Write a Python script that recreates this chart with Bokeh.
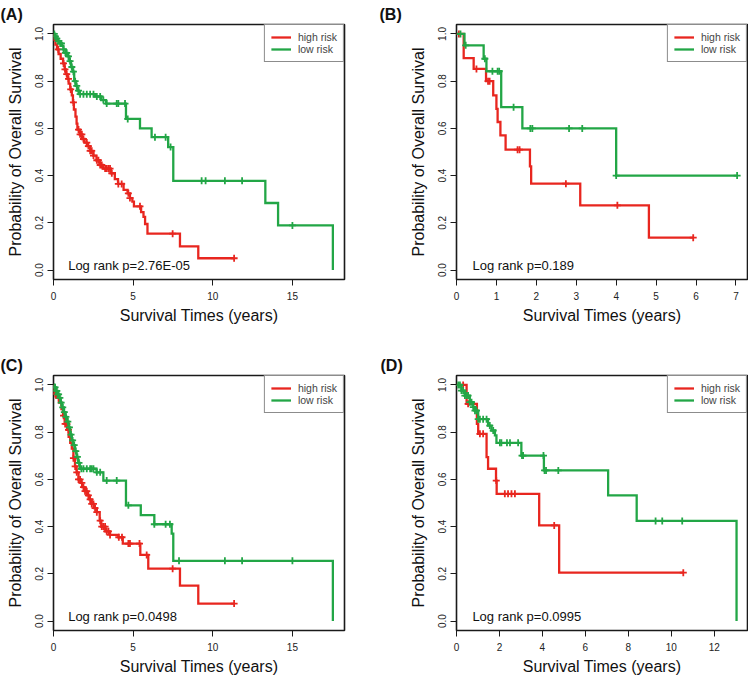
import numpy as np
from bokeh.plotting import figure
from bokeh.layouts import row, column
from bokeh.models import (Range1d, FixedTicker, Legend, LegendItem, Label,
                          PrintfTickFormatter)
from bokeh.embed import file_html
from bokeh.resources import INLINE

# ---------------- data ----------------
series_labels = ["high risk", "low risk"]
x_title = "Survival Times (years)"
y_title = "Probability of Overall Survival"
y_ticks = [0.0, 0.2, 0.4, 0.6, 0.8, 1.0]

# Panel A
a_high_t = [0.02, 0.12, 0.22, 0.32, 0.45, 0.6, 0.7, 0.78, 0.88, 0.95, 1.05, 1.15, 1.22, 1.28, 1.38,
            1.45, 1.5, 1.65, 1.8, 1.95, 2.1, 2.3, 2.5, 2.7, 2.9, 3.1, 3.6, 3.85, 4.05, 4.4, 4.65,
            4.8, 4.95, 5.05, 5.5, 5.65, 5.75, 5.9, 7.94, 9.09]
a_high_s = [0.975, 0.955, 0.935, 0.915, 0.895, 0.875, 0.85, 0.83, 0.81, 0.79, 0.765, 0.74, 0.71, 0.68,
            0.65, 0.62, 0.595, 0.575, 0.555, 0.54, 0.525, 0.505, 0.485, 0.465, 0.445, 0.43, 0.41,
            0.385, 0.365, 0.34, 0.325, 0.305, 0.29, 0.27, 0.245, 0.225, 0.195, 0.154, 0.1, 0.05]
a_high_end = 11.34
a_high_cens = [0.3, 0.63, 0.72, 0.83, 0.94, 1.08, 1.25, 1.57, 1.67, 1.78, 1.88, 2.09, 2.19, 2.3, 2.4,
               2.51, 2.72, 2.82, 2.93, 3.03, 3.24, 3.34, 3.45, 3.55, 3.66, 4.07, 4.28, 4.7, 4.8,
               5.43, 7.48, 11.34]
a_low_t = [0.08, 0.18, 0.3, 0.42, 0.52, 0.62, 0.75, 0.88, 1.0, 1.1, 1.2, 1.3, 1.4, 1.5, 1.6, 2.6,
           3.0, 3.3, 4.55, 5.43, 6.16, 7.2, 7.52, 13.3, 14.1, 17.54]
a_low_s = [0.99, 0.98, 0.97, 0.96, 0.95, 0.935, 0.92, 0.905, 0.885, 0.86, 0.84, 0.8, 0.78, 0.76,
           0.745, 0.735, 0.72, 0.705, 0.64, 0.60, 0.563, 0.521, 0.378, 0.284, 0.189, 0.0]
a_low_end = 17.54
a_low_cens = [0.05, 0.12, 0.21, 0.3, 0.42, 0.5, 0.63, 0.75, 0.83, 0.94, 1.04, 1.15, 1.25, 1.36,
              1.46, 1.57, 1.67, 1.88, 2.09, 2.3, 2.51, 2.72, 2.93, 3.13, 3.34, 3.97, 4.07, 4.49,
              4.66, 6.37, 7.04, 7.35, 9.3, 9.55, 10.76, 11.84, 15.0]
a_ptext = "Log rank p=2.76E-05"

# Panel B
b_high_t = [0.18, 0.43, 0.74, 0.92, 1.0, 1.03, 1.1, 1.23, 1.84, 1.87, 3.1, 4.82]
b_high_s = [0.898, 0.852, 0.8, 0.74, 0.683, 0.627, 0.57, 0.51, 0.439, 0.366, 0.274, 0.137]
b_high_end = 5.93
b_high_cens = [0.06, 0.5, 0.79, 0.83, 1.53, 1.58, 2.74, 4.03, 5.93]
b_low_t = [0.2, 0.68, 0.75, 1.12, 1.65, 4.0]
b_low_s = [0.952, 0.895, 0.842, 0.69, 0.60, 0.40]
b_low_end = 7.03
b_low_cens = [0.1, 0.23, 0.71, 0.9, 1.03, 1.07, 1.43, 1.85, 1.9, 2.82, 3.15, 4.0, 7.03]
b_ptext = "Log rank p=0.189"

# Panel C
c_high_t = [0.02, 0.2, 0.35, 0.5, 0.6, 0.7, 0.85, 0.95, 1.05, 1.15, 1.25, 1.35, 1.45, 1.57, 1.7,
            1.8, 1.95, 2.1, 2.25, 2.4, 2.55, 2.72, 2.9, 3.0, 3.25, 3.55, 4.07, 4.35, 5.45, 5.95,
            7.94, 9.09]
c_high_s = [0.962, 0.945, 0.925, 0.898, 0.87, 0.835, 0.81, 0.78, 0.755, 0.73, 0.69, 0.655, 0.63,
            0.6, 0.585, 0.567, 0.55, 0.532, 0.515, 0.496, 0.478, 0.461, 0.425, 0.4, 0.38, 0.365,
            0.355, 0.328, 0.28, 0.222, 0.15, 0.074]
c_high_end = 11.34
c_high_cens = [0.11, 0.32, 0.63, 0.73, 0.84, 0.94, 1.25, 1.36, 1.46, 1.57, 1.67, 1.78, 1.88, 1.98,
               2.09, 2.19, 2.3, 2.4, 2.51, 2.61, 2.72, 2.93, 3.03, 3.13, 3.24, 3.34, 3.45, 3.55,
               4.1, 4.3, 4.7, 4.8, 5.4, 5.85, 7.48, 11.34]
c_low_t = [0.05, 0.15, 0.25, 0.35, 0.45, 0.55, 0.65, 0.75, 0.85, 0.95, 1.05, 1.15, 1.25, 1.35,
           1.45, 1.55, 1.65, 2.7, 3.13, 4.55, 5.48, 6.33, 7.42, 7.52, 17.54]
c_low_s = [0.99, 0.975, 0.96, 0.945, 0.925, 0.905, 0.885, 0.865, 0.845, 0.82, 0.79, 0.765, 0.745,
           0.72, 0.695, 0.67, 0.645, 0.63, 0.595, 0.49, 0.449, 0.41, 0.37, 0.255, 0.0]
c_low_end = 17.54
c_low_cens = [0.05, 0.1, 0.16, 0.21, 0.27, 0.32, 0.4, 0.48, 0.58, 0.68, 0.78, 0.9, 1.0, 1.1, 1.2,
              1.3, 1.4, 1.5, 1.6, 1.75, 1.88, 2.09, 2.3, 2.4, 2.51, 2.72, 2.93, 3.34, 3.97, 4.7,
              6.33, 7.04, 7.31, 7.88, 10.76, 11.84, 15.0]
c_ptext = "Log rank p=0.0498"

# Panel D
d_high_t = [0.47, 0.95, 1.01, 1.4, 1.47, 1.84, 1.87, 3.85, 4.78]
d_high_s = [0.92, 0.835, 0.793, 0.694, 0.645, 0.595, 0.539, 0.405, 0.205]
d_high_end = 10.56
d_high_cens = [0.31, 0.54, 1.09, 1.24, 1.85, 2.25, 2.4, 2.56, 2.72, 4.55, 10.56]
d_low_t = [0.23, 0.39, 0.62, 0.78, 0.86, 1.01, 1.47, 1.63, 1.79, 1.86, 3.02, 4.07, 7.06, 8.39, 13.04]
d_low_s = [0.976, 0.955, 0.927, 0.906, 0.891, 0.855, 0.828, 0.807, 0.786, 0.755, 0.701, 0.638,
           0.532, 0.424, 0.0]
d_low_end = 13.04
d_low_cens = [0.08, 0.16, 0.23, 0.31, 0.39, 0.47, 0.54, 0.62, 0.7, 0.78, 0.86, 0.93, 1.01, 1.09,
              1.24, 1.4, 1.55, 1.71, 2.02, 2.09, 2.35, 2.49, 2.87, 3.05, 3.1, 4.05, 4.1, 4.17, 4.74,
              9.27, 9.58, 10.51]
d_ptext = "Log rank p=0.0995"

# ---------------- styling ----------------
RED = "#E8261F"
GREEN = "#22A646"
FONT = "Liberation Sans"
FW, FH = 291, 255
YMIN, YMAX = -0.04, 1.04


def km_path(t, s, end):
    xs, ys, cur = [0.0], [1.0], 1.0
    for ti, si in zip(t, s):
        xs += [ti, ti]
        ys += [cur, si]
        cur = si
    if xs[-1] < end:
        xs.append(end)
        ys.append(cur)
    return xs, ys


def km_at(t, s, c):
    t = np.asarray(t)
    s = np.asarray(s)
    out = []
    for ci in c:
        idx = np.where(t <= ci)[0]
        out.append(1.0 if len(idx) == 0 else float(s[idx[-1]]))
    return out


def panel(letter, xmax, xticks, hi, lo, ptext, ptx, left, right, top, bottom, letter_off):
    p = figure(frame_width=FW, frame_height=FH,
               min_border_left=left, min_border_right=right,
               min_border_top=top, min_border_bottom=bottom,
               x_range=Range1d(0, xmax), y_range=Range1d(YMIN, YMAX),
               output_backend="svg", toolbar_location=None, tools="",
               title=letter)
    p.title.text_font = FONT
    p.title.text_font_size = "16px"
    p.title.text_font_style = "bold"
    p.title.text_color = "#111111"
    p.title.align = "left"
    p.title.offset = letter_off
    p.title.standoff = 3

    p.background_fill_color = "white"
    p.border_fill_color = "white"
    p.outline_line_color = "#1a1a1a"
    p.outline_line_width = 1.6
    p.grid.visible = False

    for ax in (p.xaxis[0], p.yaxis[0]):
        ax.axis_line_color = None
        ax.major_tick_out = 6
        ax.major_tick_in = 0
        ax.major_tick_line_color = "#1a1a1a"
        ax.minor_tick_line_color = None
        ax.major_label_text_font = FONT
        ax.major_label_text_font_size = "10px"
        ax.major_label_text_color = "#222222"
        ax.axis_label_text_font = FONT
        ax.axis_label_text_font_size = "16px"
        ax.axis_label_text_font_style = "normal"
        ax.axis_label_text_color = "#111111"

    p.xaxis.ticker = FixedTicker(ticks=xticks)
    p.xaxis.axis_label = x_title
    p.xaxis.major_label_standoff = 6
    p.xaxis.axis_label_standoff = 4

    p.yaxis.ticker = FixedTicker(ticks=y_ticks)
    p.yaxis.formatter = PrintfTickFormatter(format="%.1f")
    p.yaxis.major_label_orientation = "vertical"
    p.yaxis.axis_label = y_title
    p.yaxis.major_label_standoff = 4
    p.yaxis.axis_label_standoff = 9

    renderers = []
    for (t, s, end, cens), col in zip((hi, lo), (RED, GREEN)):
        xs, ys = km_path(t, s, end)
        r = p.line(xs, ys, line_color=col, line_width=2.3, line_join="miter")
        p.scatter(cens, km_at(t, s, cens), marker="cross", size=7,
                  line_color=col, line_width=1.8)
        renderers.append(r)

    legend = Legend(items=[LegendItem(label=series_labels[0], renderers=[renderers[0]]),
                           LegendItem(label=series_labels[1], renderers=[renderers[1]])],
                    location="top_right", margin=0, padding=6, spacing=0,
                    label_height=12, glyph_height=12, glyph_width=20, label_standoff=7,
                    label_text_font=FONT, label_text_font_size="10.5px",
                    border_line_color="#1a1a1a", border_line_width=1.3,
                    background_fill_color="white", background_fill_alpha=1.0)
    p.add_layout(legend)

    p.add_layout(Label(x=ptx, y=0.02, text=ptext, text_font=FONT, text_font_size="13px",
                       text_baseline="middle", text_align="left", text_color="#111111"))
    return p


pA = panel("(A)", 18.27, [0, 5, 10, 15],
           (a_high_t, a_high_s, a_high_end, a_high_cens),
           (a_low_t, a_low_s, a_low_end, a_low_cens),
           a_ptext, 0.92, 53, 31, 24, 73, -53)
pB = panel("(B)", 7.29, [0, 1, 2, 3, 4, 5, 6, 7],
           (b_high_t, b_high_s, b_high_end, b_high_cens),
           (b_low_t, b_low_s, b_low_end, b_low_cens),
           b_ptext, 0.4, 81, 1, 24, 73, -77)
pC = panel("(C)", 18.27, [0, 5, 10, 15],
           (c_high_t, c_high_s, c_high_end, c_high_cens),
           (c_low_t, c_low_s, c_low_end, c_low_cens),
           c_ptext, 0.92, 53, 31, 23, 47, -53)
pD = panel("(D)", 13.55, [0, 2, 4, 6, 8, 10, 12],
           (d_high_t, d_high_s, d_high_end, d_high_cens),
           (d_low_t, d_low_s, d_low_end, d_low_cens),
           d_ptext, 0.74, 81, 1, 23, 47, -76)

layout = column(row(pA, pB), row(pC, pD))
open("out.html", "w").write(file_html(layout, INLINE))
